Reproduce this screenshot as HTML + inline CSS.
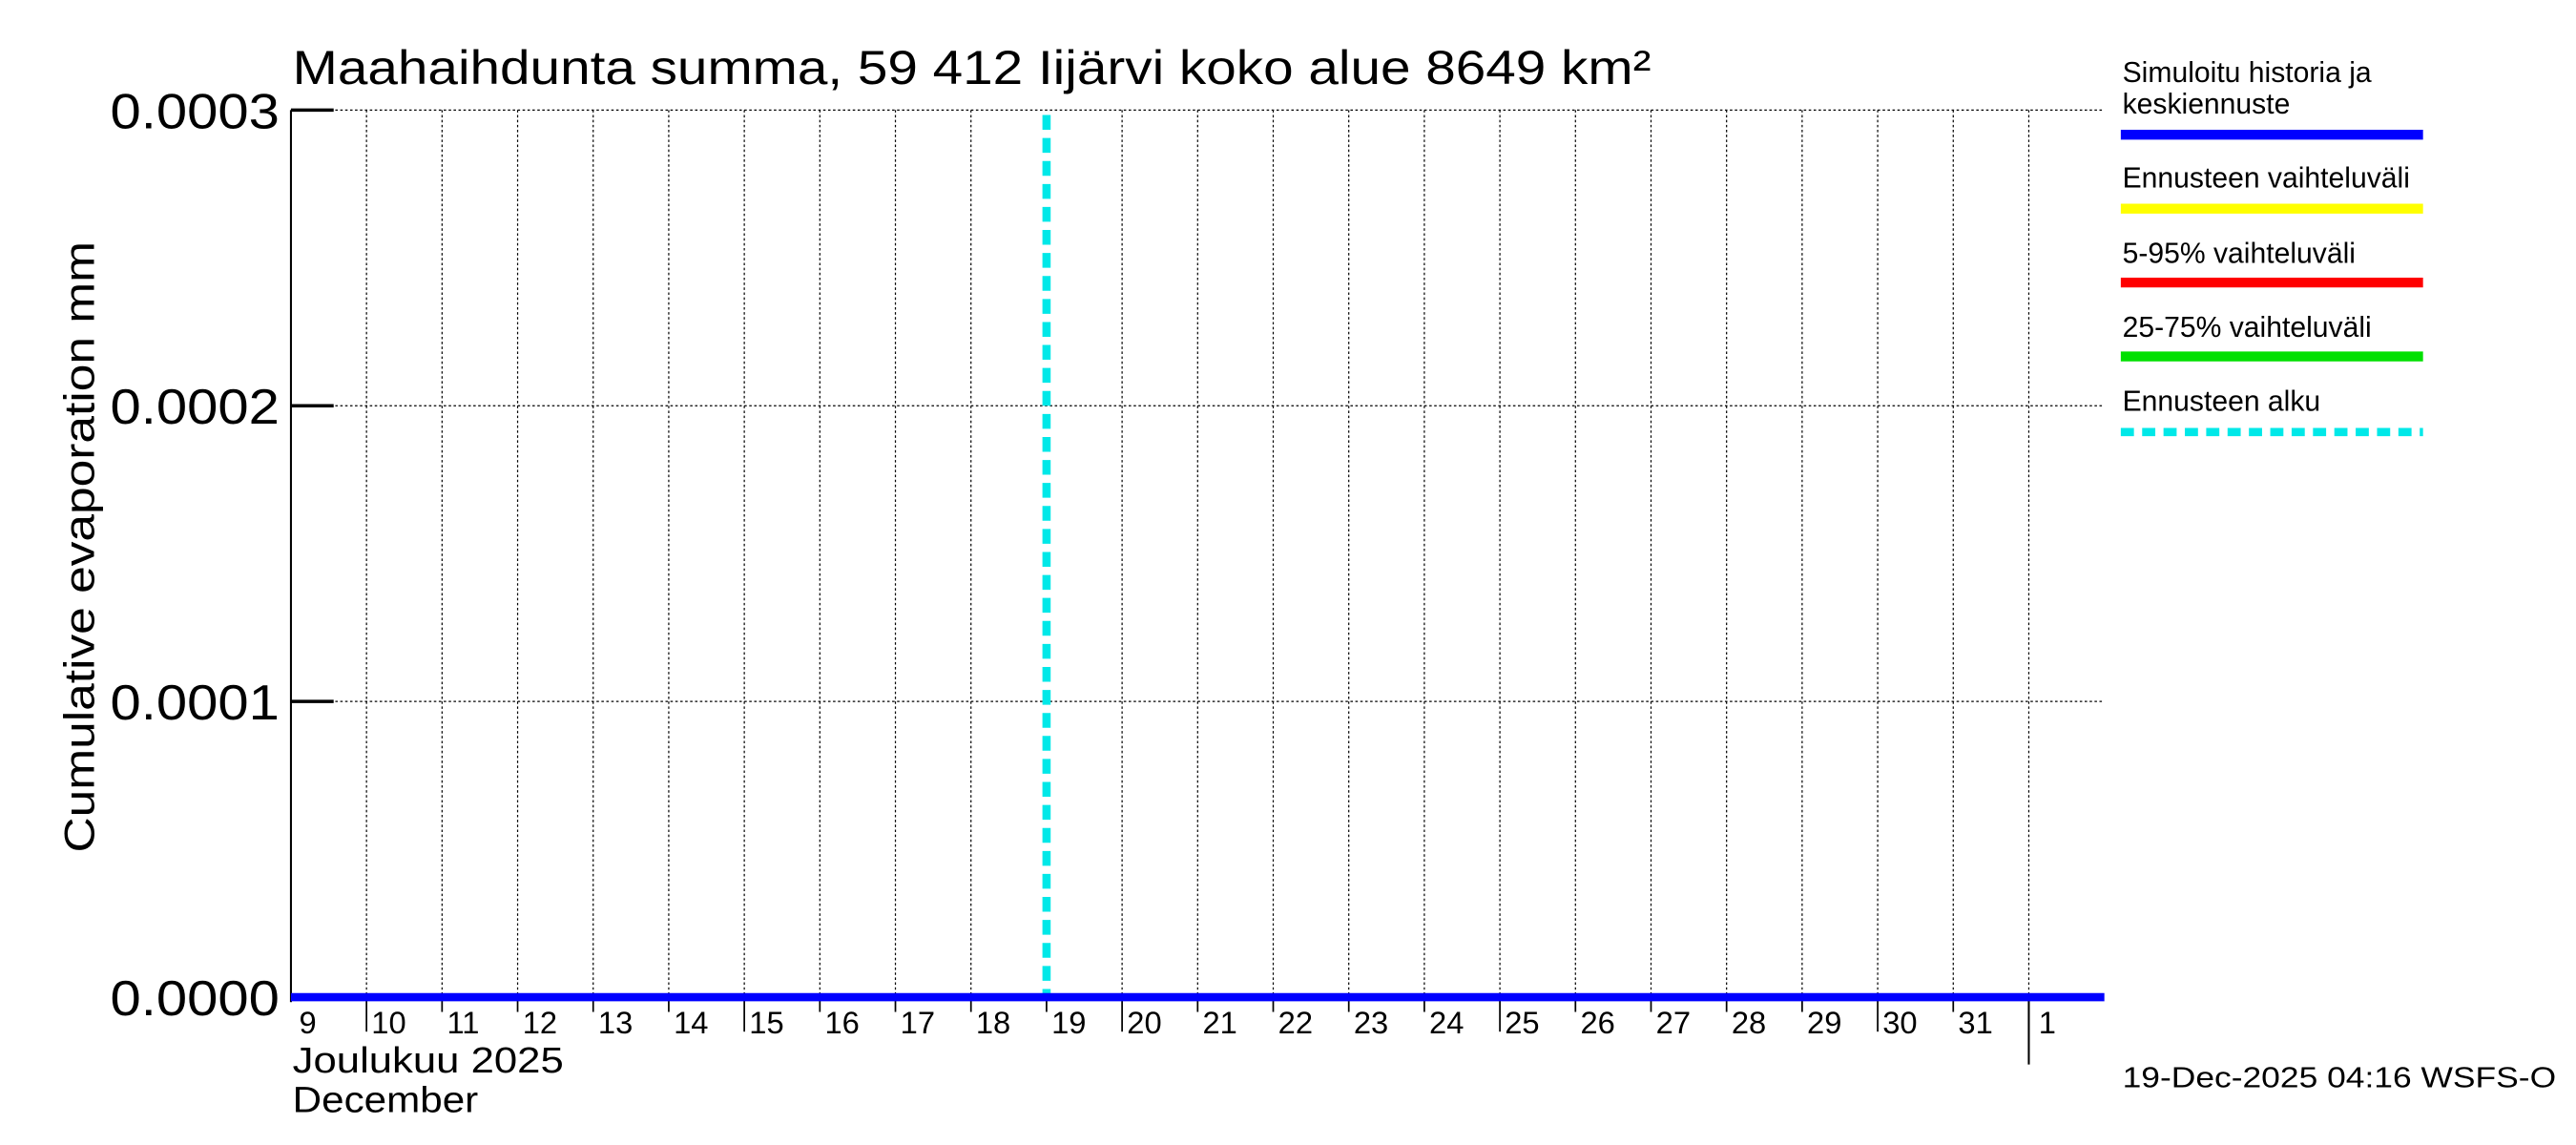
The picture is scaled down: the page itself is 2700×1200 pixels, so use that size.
<!DOCTYPE html>
<html><head><style>body{margin:0;background:#fff}svg{display:block}</style></head><body>
<svg width="2700" height="1200" viewBox="0 0 1568 697" xmlns="http://www.w3.org/2000/svg" font-family="Liberation Sans, sans-serif">
<rect width="1568" height="697" fill="#fff"/>
<g stroke="#000" stroke-width="0.7" stroke-dasharray="1.5,1.5" fill="none">
<line x1="177" y1="67" x2="1281" y2="67"/><line x1="177" y1="247" x2="1281" y2="247"/><line x1="177" y1="427" x2="1281" y2="427"/>
<line x1="223" y1="67" x2="223" y2="607"/><line x1="269" y1="67" x2="269" y2="607"/><line x1="315" y1="67" x2="315" y2="607"/><line x1="361" y1="67" x2="361" y2="607"/><line x1="407" y1="67" x2="407" y2="607"/><line x1="453" y1="67" x2="453" y2="607"/><line x1="499" y1="67" x2="499" y2="607"/><line x1="545" y1="67" x2="545" y2="607"/><line x1="591" y1="67" x2="591" y2="607"/><line x1="683" y1="67" x2="683" y2="607"/><line x1="729" y1="67" x2="729" y2="607"/><line x1="775" y1="67" x2="775" y2="607"/><line x1="821" y1="67" x2="821" y2="607"/><line x1="867" y1="67" x2="867" y2="607"/><line x1="913" y1="67" x2="913" y2="607"/><line x1="959" y1="67" x2="959" y2="607"/><line x1="1005" y1="67" x2="1005" y2="607"/><line x1="1051" y1="67" x2="1051" y2="607"/><line x1="1097" y1="67" x2="1097" y2="607"/><line x1="1143" y1="67" x2="1143" y2="607"/><line x1="1189" y1="67" x2="1189" y2="607"/><line x1="1235" y1="67" x2="1235" y2="607"/>
</g>
<g stroke="#000" stroke-width="1.2" fill="none">
<line x1="177" y1="67" x2="177" y2="610"/>
<line x1="177" y1="67" x2="203" y2="67" stroke-width="2"/><line x1="177" y1="247" x2="203" y2="247" stroke-width="2"/><line x1="177" y1="427" x2="203" y2="427" stroke-width="2"/><line x1="177" y1="607" x2="203" y2="607" stroke-width="2"/>
<line x1="1235" y1="607" x2="1235" y2="648"/>
</g>
<g stroke="#000" stroke-width="1">
<line x1="223" y1="607" x2="223" y2="628"/><line x1="269" y1="607" x2="269" y2="616"/><line x1="315" y1="607" x2="315" y2="616"/><line x1="361" y1="607" x2="361" y2="616"/><line x1="407" y1="607" x2="407" y2="616"/><line x1="453" y1="607" x2="453" y2="628"/><line x1="499" y1="607" x2="499" y2="616"/><line x1="545" y1="607" x2="545" y2="616"/><line x1="591" y1="607" x2="591" y2="616"/><line x1="637" y1="607" x2="637" y2="616"/><line x1="683" y1="607" x2="683" y2="628"/><line x1="729" y1="607" x2="729" y2="616"/><line x1="775" y1="607" x2="775" y2="616"/><line x1="821" y1="607" x2="821" y2="616"/><line x1="867" y1="607" x2="867" y2="616"/><line x1="913" y1="607" x2="913" y2="628"/><line x1="959" y1="607" x2="959" y2="616"/><line x1="1005" y1="607" x2="1005" y2="616"/><line x1="1051" y1="607" x2="1051" y2="616"/><line x1="1097" y1="607" x2="1097" y2="616"/><line x1="1143" y1="607" x2="1143" y2="628"/><line x1="1189" y1="607" x2="1189" y2="616"/>
</g>
<line x1="637" y1="70" x2="637" y2="607" stroke="#00e8e8" stroke-width="5" stroke-dasharray="9,5"/>
<line x1="177" y1="607" x2="1281" y2="607" stroke="#0000ff" stroke-width="5"/>
<text x="178" y="51" font-size="29" textLength="827" lengthAdjust="spacingAndGlyphs">Maahaihdunta summa, 59 412 Iijärvi koko alue 8649 km²</text>
<g font-size="30" text-anchor="end"><text x="170" y="78" textLength="103" lengthAdjust="spacingAndGlyphs">0.0003</text><text x="170" y="258" textLength="103" lengthAdjust="spacingAndGlyphs">0.0002</text><text x="170" y="438" textLength="103" lengthAdjust="spacingAndGlyphs">0.0001</text><text x="170" y="618" textLength="103" lengthAdjust="spacingAndGlyphs">0.0000</text></g>
<text transform="translate(57,333) rotate(-90)" font-size="26" text-anchor="middle" textLength="372" lengthAdjust="spacingAndGlyphs">Cumulative evaporation   mm</text>
<g font-size="19"><text x="182" y="629">9</text><text x="226" y="629">10</text><text x="272" y="629">11</text><text x="318" y="629">12</text><text x="364" y="629">13</text><text x="410" y="629">14</text><text x="456" y="629">15</text><text x="502" y="629">16</text><text x="548" y="629">17</text><text x="594" y="629">18</text><text x="640" y="629">19</text><text x="686" y="629">20</text><text x="732" y="629">21</text><text x="778" y="629">22</text><text x="824" y="629">23</text><text x="870" y="629">24</text><text x="916" y="629">25</text><text x="962" y="629">26</text><text x="1008" y="629">27</text><text x="1054" y="629">28</text><text x="1100" y="629">29</text><text x="1146" y="629">30</text><text x="1192" y="629">31</text><text x="1241" y="629">1</text></g>
<text x="178" y="653" font-size="22" textLength="165" lengthAdjust="spacingAndGlyphs">Joulukuu  2025</text>
<text x="178" y="677" font-size="22" textLength="113" lengthAdjust="spacingAndGlyphs">December</text>
<g font-size="17.5"><text x="1292" y="50">Simuloitu historia ja</text><text x="1292" y="69">keskiennuste</text><text x="1292" y="114">Ennusteen vaihteluväli</text><text x="1292" y="160">5-95% vaihteluväli</text><text x="1292" y="205">25-75% vaihteluväli</text><text x="1292" y="250">Ennusteen alku</text></g>
<line x1="1291" y1="82" x2="1475" y2="82" stroke="#0000ff" stroke-width="6"/>
<line x1="1291" y1="127" x2="1475" y2="127" stroke="#ffff00" stroke-width="6"/>
<line x1="1291" y1="172" x2="1475" y2="172" stroke="#ff0000" stroke-width="6"/>
<line x1="1291" y1="217" x2="1475" y2="217" stroke="#00e000" stroke-width="6"/>
<line x1="1291" y1="263" x2="1475" y2="263" stroke="#00e8e8" stroke-width="5" stroke-dasharray="8,5"/>
<text x="1556" y="662" font-size="18" text-anchor="end" textLength="264" lengthAdjust="spacingAndGlyphs">19-Dec-2025 04:16 WSFS-O</text>
</svg>
</body></html>
